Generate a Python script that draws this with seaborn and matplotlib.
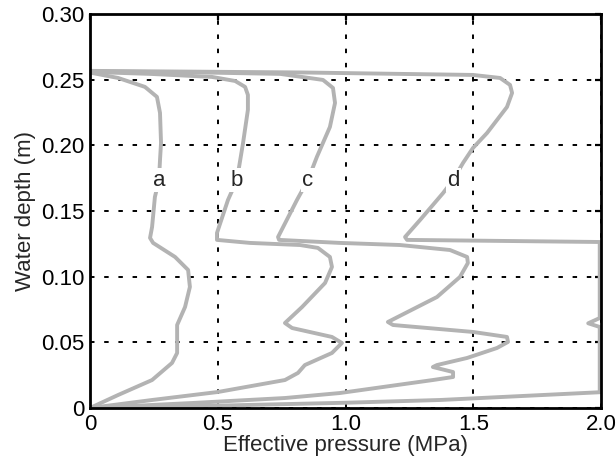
import numpy as np
import pandas as pd
import matplotlib
matplotlib.use("Agg")
import matplotlib.pyplot as plt
import seaborn as sns

# ── data ─────────────────────────────────────────────────────────
a_p = [0.0, 0.110, 0.215, 0.262, 0.274, 0.278, 0.274, 0.270, 0.254, 0.243, 0.235,
       0.247, 0.333, 0.384, 0.391, 0.372, 0.341, 0.341, 0.321, 0.243, 0.110, 0.0]
a_d = [0.2554, 0.2513, 0.2445, 0.2369, 0.2247, 0.2018, 0.1889, 0.1736, 0.1607, 0.1379, 0.1295,
       0.1257, 0.1150, 0.1051, 0.0922, 0.0769, 0.0632, 0.0419, 0.0343, 0.0213, 0.0099, 0.0]

b_p = [0.0, 0.235, 0.477, 0.568, 0.607, 0.618, 0.618, 0.599, 0.575, 0.540, 0.497, 0.497,
       0.626, 0.822, 0.892, 0.939, 0.947, 0.920, 0.830, 0.763, 0.791, 0.947, 0.986,
       0.947, 0.841, 0.814, 0.763, 0.501, 0.243, 0.0]
b_d = [0.2559, 0.2544, 0.2521, 0.2490, 0.2445, 0.2384, 0.2270, 0.2018, 0.1736, 0.1584, 0.1333, 0.1280,
       0.1257, 0.1241, 0.1219, 0.1150, 0.1074, 0.0952, 0.0769, 0.0647, 0.0609, 0.0541, 0.0495,
       0.0419, 0.0327, 0.0267, 0.0213, 0.0122, 0.0061, 0.0]

c_p = [0.0, 0.431, 0.744, 0.912, 0.951, 0.959, 0.939, 0.888, 0.853, 0.810, 0.736, 0.740,
       0.978, 1.213, 1.409, 1.476, 1.479, 1.448, 1.358, 1.166, 1.186, 1.499, 1.632, 1.636,
       1.593, 1.476, 1.358, 1.342, 1.421, 1.421, 1.342, 0.978, 0.763, 0.400, 0.0]
c_d = [0.2563, 0.2555, 0.2544, 0.2498, 0.2437, 0.2323, 0.2140, 0.1912, 0.1736, 0.1584, 0.1302, 0.1280,
       0.1257, 0.1241, 0.1203, 0.1150, 0.1104, 0.0998, 0.0845, 0.0655, 0.0632, 0.0579, 0.0541, 0.0503,
       0.0457, 0.0381, 0.0327, 0.0312, 0.0274, 0.0236, 0.0213, 0.0114, 0.0076, 0.0038, 0.0]

d_p = [0.0, 0.822, 1.499, 1.605, 1.644, 1.652, 1.632, 1.554, 1.499, 1.460, 1.421, 1.382,
       1.292, 1.233, 1.241, 1.995, 1.995, 1.950, 1.995, 1.995, 1.370, 1.000, 0.500, 0.0]
d_d = [0.2567, 0.2555, 0.2536, 0.2513, 0.2460, 0.2399, 0.2292, 0.2094, 0.1980, 0.1866, 0.1736, 0.1637,
       0.1432, 0.1302, 0.1280, 0.1264, 0.0685, 0.0645, 0.0617, 0.0120, 0.0061, 0.0040, 0.0018, 0.0]

curve_names = ["a", "b", "c", "d"]
label_p = [0.270, 0.575, 0.853, 1.421]
label_d = [0.1736, 0.1736, 0.1736, 0.1736]

x_ticks = [0, 0.5, 1.0, 1.5, 2.0]
x_ticklabels = ["0", "0.5", "1.0", "1.5", "2.0"]
y_ticks = [0, 0.05, 0.10, 0.15, 0.20, 0.25, 0.30]
y_ticklabels = ["0", "0.05", "0.10", "0.15", "0.20", "0.25", "0.30"]

# ── style ────────────────────────────────────────────────────────
sns.set_style("white")
plt.rcParams["font.family"] = ["Liberation Sans", "DejaVu Sans"]
GRAY = "#b3b3b3"
FS = 16

fig = plt.figure(figsize=(6.16, 4.66), dpi=100)
ax = fig.add_axes([90 / 616, 58 / 466, 511 / 616, 394 / 466])

df = pd.concat([
    pd.DataFrame({"pressure": p, "depth": d, "curve": n, "order": np.arange(len(p))})
    for n, p, d in zip(curve_names, [a_p, b_p, c_p, d_p], [a_d, b_d, c_d, d_d])
], ignore_index=True)

for name, g in df.groupby("curve"):
    sns.lineplot(data=g, x="pressure", y="depth", sort=False, estimator=None,
                 color=GRAY, lw=2.8, ax=ax, zorder=2,
                 solid_joinstyle="round", solid_capstyle="round")

for name, xp, yp in zip(curve_names, label_p, label_d):
    ax.text(xp, yp, name, fontsize=FS, ha="center", va="center", zorder=3,
            bbox=dict(facecolor="white", edgecolor="none", pad=1.0))

ax.set_xlim(0, 2.0)
ax.set_ylim(0, 0.30)
ax.set_xticks(x_ticks)
ax.set_xticklabels(x_ticklabels)
ax.set_yticks(y_ticks)
ax.set_yticklabels(y_ticklabels)
ax.grid(True, color="black", linestyle=(0, (2.3, 5.0)), lw=1.4)
ax.set_axisbelow(True)

ax.tick_params(direction="in", length=4, width=1.6, top=True, right=True,
               labelsize=FS, colors="black")
ax.tick_params(axis="x", pad=4)
ax.tick_params(axis="y", pad=4)
for s in ax.spines.values():
    s.set_visible(True)
    s.set_color("black")
    s.set_linewidth(2.0)

ax.set_xlabel("Effective pressure (MPa)", fontsize=FS, labelpad=0)
ax.set_ylabel("Water depth (m)", fontsize=FS, labelpad=4)

fig.savefig("out.png", dpi=100)
